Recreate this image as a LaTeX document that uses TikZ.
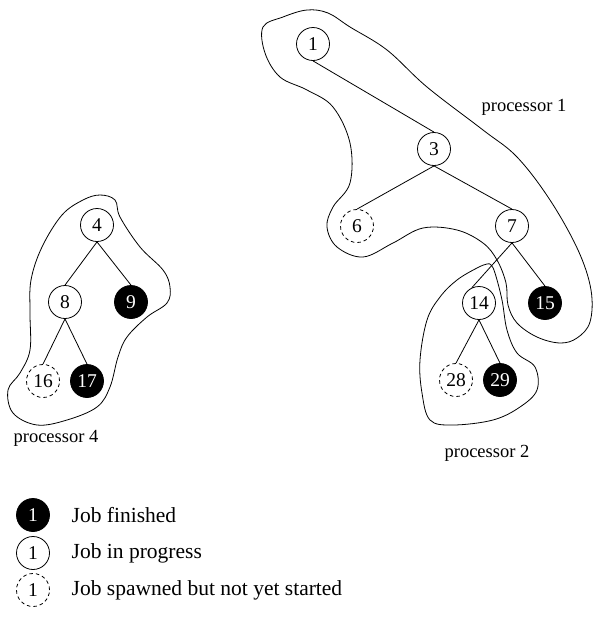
\documentclass[tikz,border=0pt]{standalone}
\usepackage{fontspec}
\setmainfont{Liberation Serif}
\begin{document}
\begin{tikzpicture}[x=1pt,y=-1pt,line width=0.8pt,
  job/.style={circle,draw,minimum size=33pt,inner sep=0pt,font=\fontsize{19.5}{19.5}\selectfont},
  done/.style={job,fill=black,text=white},
  wait/.style={job,dashed,dash pattern=on 3.5pt off 3pt},
  blob/.style={line width=0.8pt},
  plabel/.style={font=\fontsize{18.5}{20}\selectfont},
  ltext/.style={font=\fontsize{21.5}{24}\selectfont,anchor=west}]
\useasboundingbox (0,0) rectangle (594,619);
% nodes
\node[job]  (n1)  at (313,44) {1};
\node[job]  (n3)  at (434,149) {3};
\node[wait] (n6)  at (357,226) {6};
\node[job]  (n7)  at (512,226) {7};
\node[job]  (n14) at (479,303) {14};
\node[done] (n15) at (545,303) {15};
\node[wait] (n28) at (456,380) {28};
\node[done] (n29) at (500,380) {29};
\node[job]  (n4)  at (97,225) {4};
\node[job]  (n8)  at (65,302) {8};
\node[done] (n9)  at (131,302) {9};
\node[wait] (n16) at (43,381) {16};
\node[done] (n17) at (87,381) {17};
% edges
\draw (n1.south) -- (n3.north);
\draw (n3.south) -- (n6.north);
\draw (n3.south) -- (n7.north);
\draw (n7.south) -- (n14.115);
\draw (n7.south) -- (n15.north);
\draw (n14.south) -- (n28.north);
\draw (n14.south) -- (n29.north);
\draw (n4.south) -- (n8.north);
\draw (n4.south) -- (n9.north);
\draw (n8.south) -- (n16.north);
\draw (n8.south) -- (n17.north);
% processor regions
\draw[blob] plot[smooth cycle,tension=0.6] coordinates {
 (263,27) (283,17) (307,10) (328,13) (350,27) (387,50) (427,87) (483,130)
 (517,157) (550,200) (578,250) (591,290) (590,322) (577,338) (560,343)
 (537,337) (517,323) (508,305) (506,283) (497,260) (483,243) (457,230)
 (423,228) (393,243) (363,257) (337,247) (327,227) (333,207) (350,183)
 (350,143) (333,107) (307,90) (280,77) (265,53)};
\draw[blob] plot[smooth cycle,tension=0.6] coordinates {
 (477,268) (487,264) (491,265) (495,273) (502,300) (507,330) (517,353)
 (535,367) (537,390) (520,407) (493,420) (453,425) (430,420) (422,393)
 (420,360) (427,320) (440,297) (457,280)};
\draw[blob] plot[smooth cycle,tension=0.6] coordinates {
 (83,200) (100,195) (115,200) (120,217) (140,247) (163,270) (170,287)
 (167,303) (147,317) (127,337) (118,357) (110,387) (97,407) (67,420)
 (37,425) (13,413) (8,390) (20,373) (30,350) (30,313) (31,280) (42,247)
 (62,215)};
% labels
\node[plabel] (p1) at (524,107) {processor 1};
\node[plabel] (p4) at (56,438) {processor 4};
\node[plabel] (p2) at (487,453) {processor 2};
% legend
\node[done] (l1) at (33,515) {1};
\node[job]  (l2) at (33,553) {1};
\node[wait] (l3) at (33,590) {1};
\node[ltext] (t1) at (68,515) {Job finished};
\node[ltext] (t2) at (68,553) {Job in progress};
\node[ltext] (t3) at (68,590) {Job spawned but not yet started};
\end{tikzpicture}
\end{document}
